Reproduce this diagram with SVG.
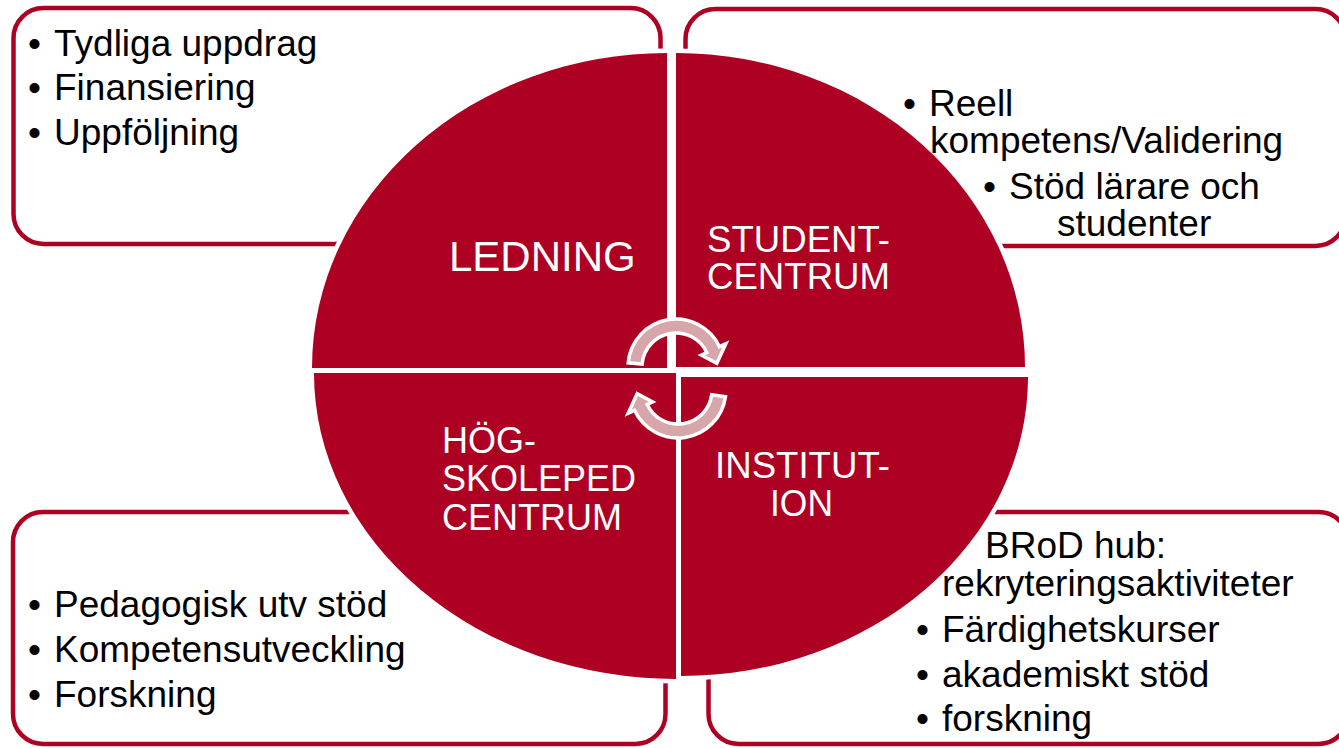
<svg xmlns="http://www.w3.org/2000/svg" width="1339" height="748" viewBox="0 0 1339 748">
<defs>
<style>
.box{fill:#ffffff;stroke:#AE0022;stroke-width:4.5}
.q{fill:#AE0022}
.qo{fill:none;stroke:#ffffff;stroke-width:9}
.arr{fill:#D6A6AA;stroke:#ffffff;stroke-width:3.5;stroke-linejoin:miter}
.t{font-family:"Liberation Sans",Arial,sans-serif;font-size:37px;fill:#000000}
.w{font-family:"Liberation Sans",Arial,sans-serif;fill:#ffffff}
</style>
<path id="pTL" d="M667,368 L312,368 A355,315 0 0 1 667,53 Z"/>
<path id="pTR" d="M676,367 L676,53 A349,314 0 0 1 1025,367 Z"/>
<path id="pBL" d="M676,373 L676,679 A362,306 0 0 1 314,373 Z"/>
<path id="pBR" d="M681,377 L1028,377 A347,299 0 0 1 681,676 Z"/>
</defs>
<rect width="1339" height="748" fill="#ffffff"/>

<g id="box-ledning"><rect class="box" x="13.5" y="8" width="647" height="236" rx="30"/></g>
<g id="box-student"><rect class="box" x="685.5" y="9" width="660" height="237" rx="30"/></g>
<g id="box-hogskoleped"><rect class="box" x="13" y="512" width="652.5" height="232" rx="30"/></g>
<g id="box-institution"><rect class="box" x="708.5" y="512" width="640" height="232" rx="30"/></g>

<g id="quadrant-outlines">
<use href="#pTL" class="qo"/><use href="#pTR" class="qo"/><use href="#pBL" class="qo"/><use href="#pBR" class="qo"/>
</g>
<g id="node-ledning"><use href="#pTL" class="q"/><text class="w" x="449" y="271" font-size="42">LEDNING</text></g>
<g id="node-studentcentrum"><use href="#pTR" class="q"/>
<text class="w" x="707" y="252" font-size="37" textLength="183" lengthAdjust="spacingAndGlyphs">STUDENT-</text>
<text class="w" x="707" y="289" font-size="37" textLength="183" lengthAdjust="spacingAndGlyphs">CENTRUM</text></g>
<g id="node-hogskoleped"><use href="#pBL" class="q"/>
<text class="w" x="442" y="453" font-size="36">HÖG-</text>
<text class="w" x="442" y="491" font-size="36">SKOLEPED</text>
<text class="w" x="442" y="530" font-size="36">CENTRUM</text></g>
<g id="node-institution"><use href="#pBR" class="q"/>
<text class="w" x="715" y="478" font-size="37" textLength="175" lengthAdjust="spacingAndGlyphs">INSTITUT-</text>
<text class="w" x="770" y="516" font-size="37" textLength="63" lengthAdjust="spacingAndGlyphs">ION</text></g>

<g id="connectors">
<path class="arr" d="M628.2,362.8 A48,48 0 0 1 719.5,346.7 L725.8,343.8 L716.8,363.4 L701.4,355.2 L706.8,352.6 A34,34 0 0 0 642.1,364 Z"/>
<path class="arr" d="M725.5,396.7 A48,48 0 0 1 634.5,410.3 L628.2,413.2 L637.2,393.6 L652.6,401.8 L647.2,404.4 A34,34 0 0 0 711.7,394.7 Z"/>
</g>

<g id="text-ledning">
<text class="t" x="28" y="56">•</text><text class="t" x="54" y="56">Tydliga uppdrag</text>
<text class="t" x="28" y="100">•</text><text class="t" x="54" y="100">Finansiering</text>
<text class="t" x="28" y="145">•</text><text class="t" x="54" y="145">Uppföljning</text>
</g>
<g id="text-student">
<text class="t" x="903" y="116">•</text><text class="t" x="929" y="116">Reell</text>
<text class="t" x="930" y="153">kompetens/Validering</text>
<text class="t" x="983" y="199">•</text><text class="t" x="1009" y="199">Stöd lärare och</text>
<text class="t" x="1057" y="236">studenter</text>
</g>
<g id="text-hogskoleped">
<text class="t" x="28" y="617">•</text><text class="t" x="54" y="617">Pedagogisk utv stöd</text>
<text class="t" x="28" y="662">•</text><text class="t" x="54" y="662">Kompetensutveckling</text>
<text class="t" x="28" y="707">•</text><text class="t" x="54" y="707">Forskning</text>
</g>
<g id="text-institution">
<text class="t" x="985" y="558">BRoD hub:</text>
<text class="t" x="942" y="596">rekryteringsaktiviteter</text>
<text class="t" x="916" y="642">•</text><text class="t" x="942" y="642">Färdighetskurser</text>
<text class="t" x="916" y="687">•</text><text class="t" x="942" y="687">akademiskt stöd</text>
<text class="t" x="916" y="731">•</text><text class="t" x="942" y="731">forskning</text>
</g>
</svg>
